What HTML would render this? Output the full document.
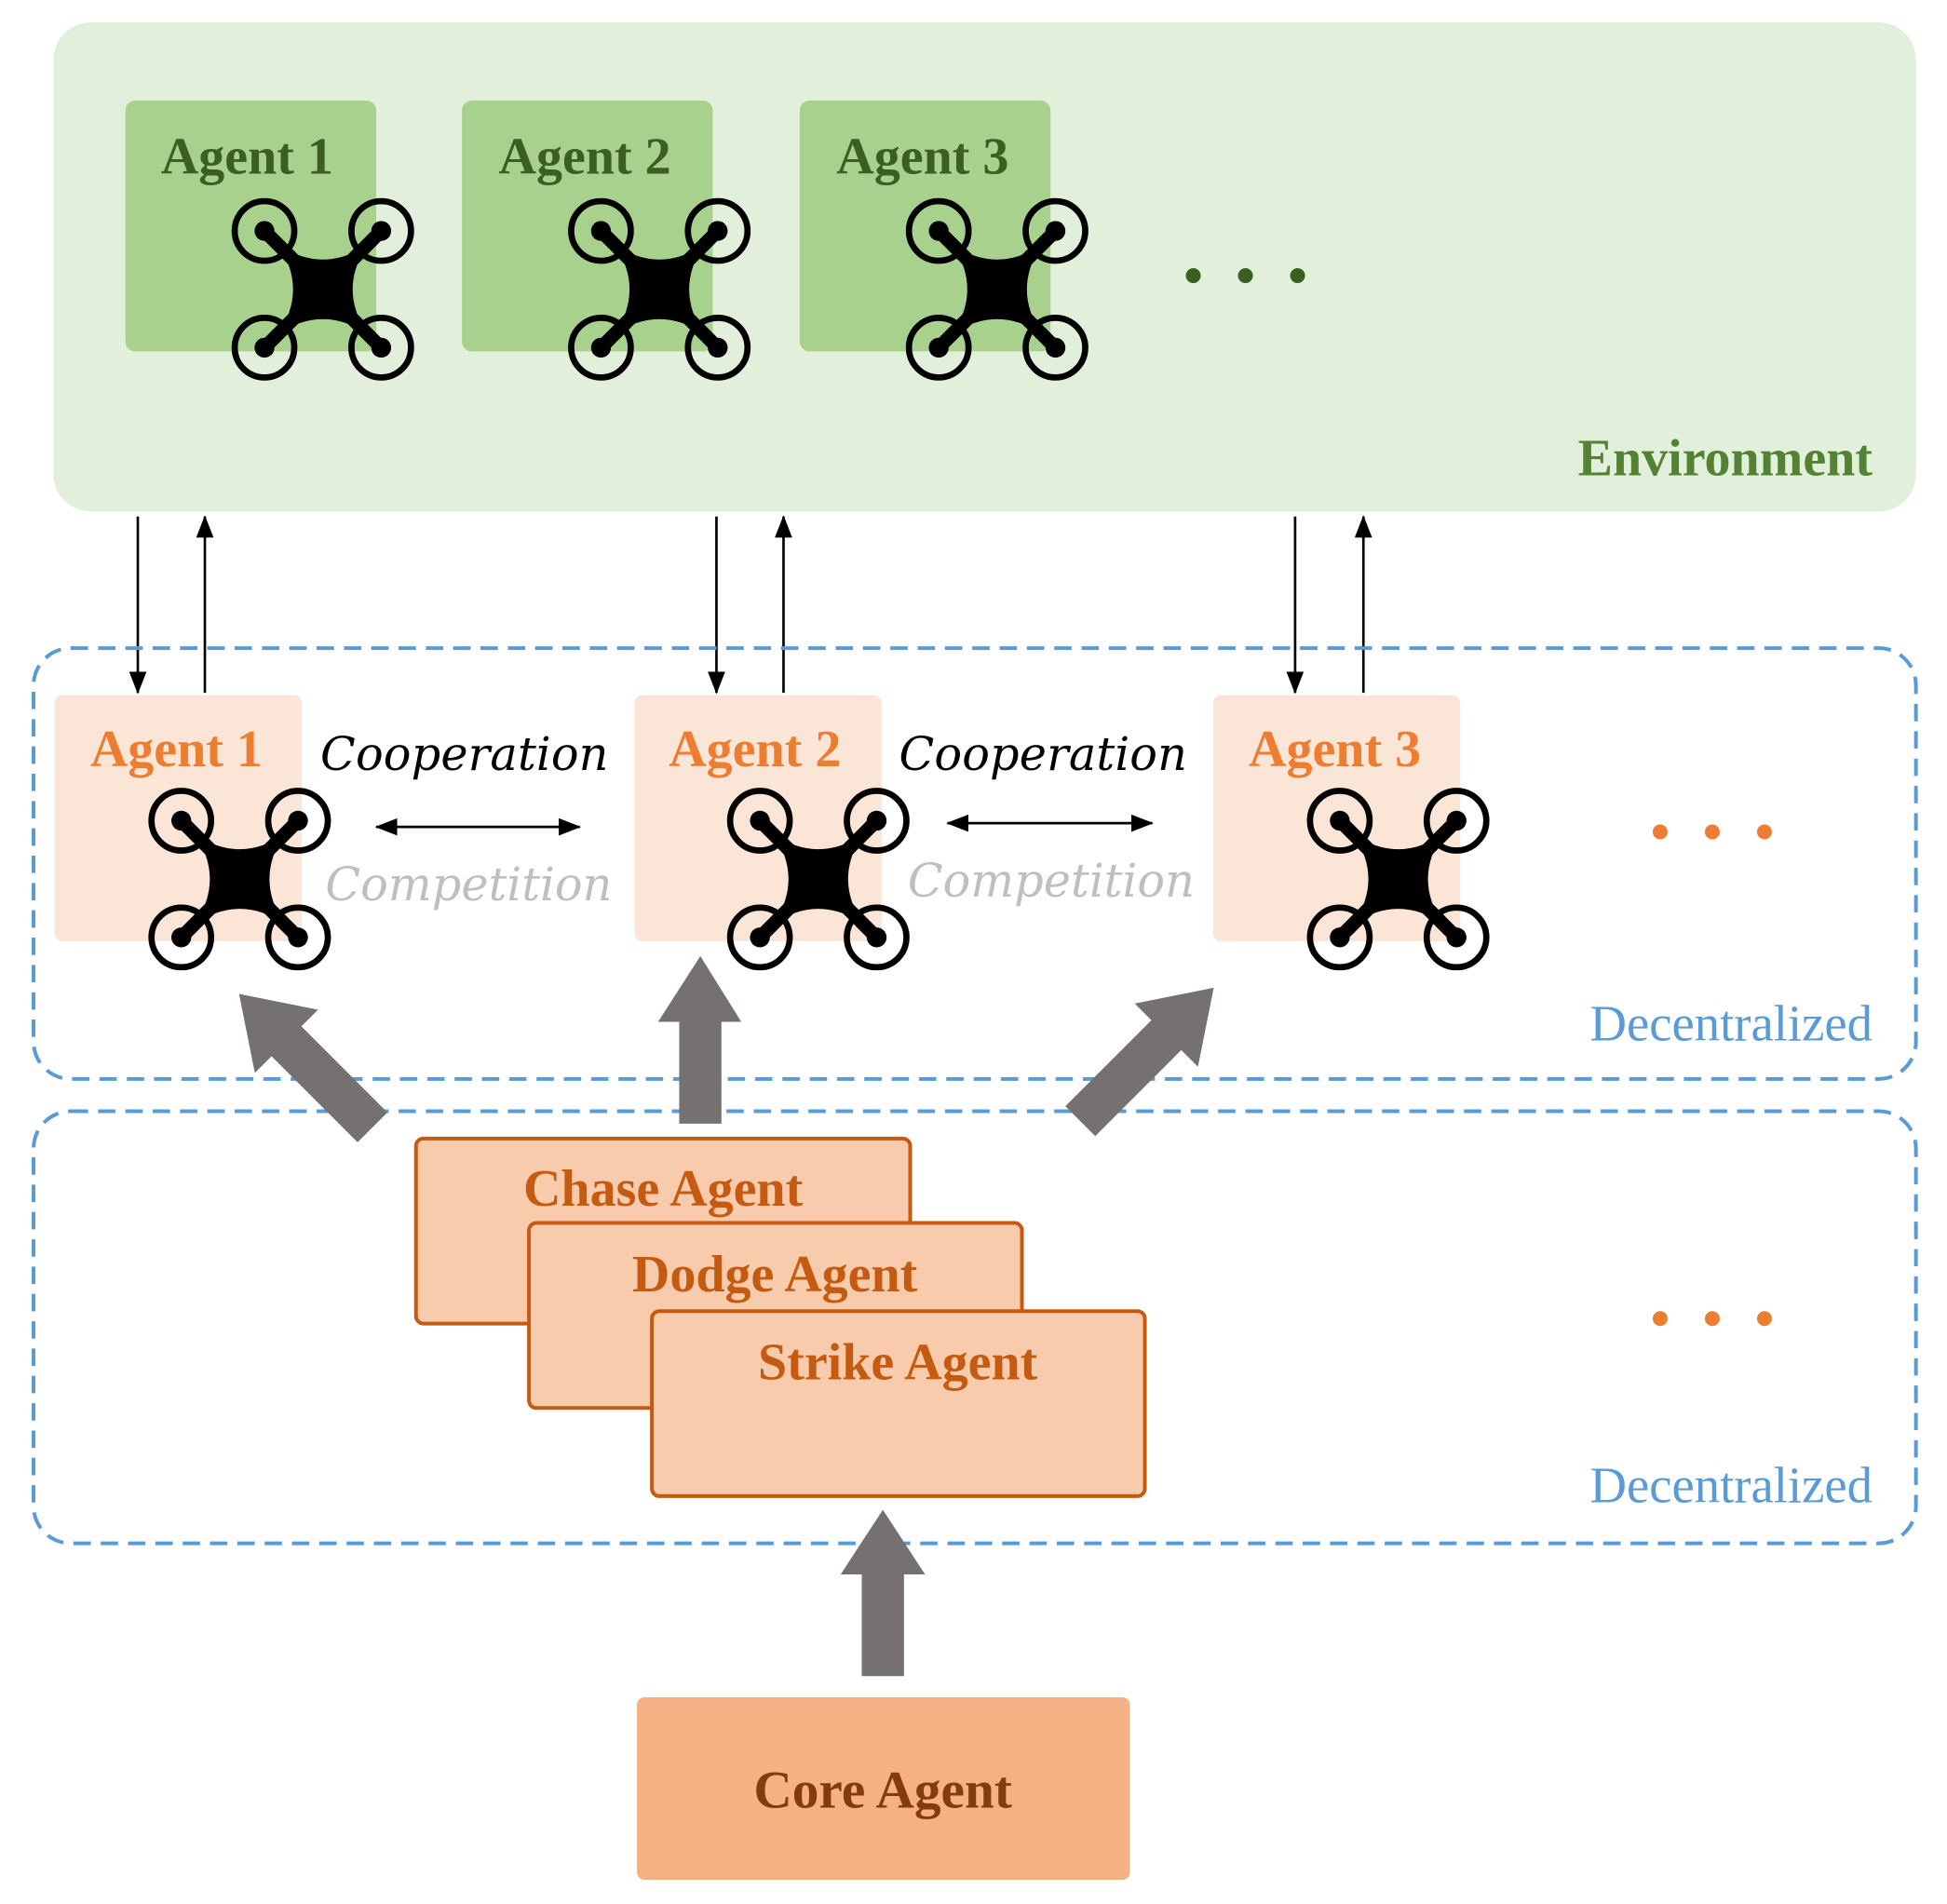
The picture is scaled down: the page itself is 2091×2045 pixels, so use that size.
<!DOCTYPE html>
<html><head><meta charset="utf-8"><style>html,body{margin:0;padding:0;background:#fff}svg{display:block}</style></head>
<body>
<svg width="2091" height="2045" viewBox="0 0 1568 1533.5" xmlns="http://www.w3.org/2000/svg">
<defs>
<g id="drone">
 <path d="M-36,-36 Q0,-12 36,-36 Q12,0 36,36 Q0,12 -36,36 Q-12,0 -36,-36Z" fill="#000"/>
 <line x1="-47" y1="-47" x2="47" y2="47" stroke="#000" stroke-width="11"/>
 <line x1="47" y1="-47" x2="-47" y2="47" stroke="#000" stroke-width="11"/>
 <g fill="none" stroke="#000" stroke-width="5">
  <circle cx="-47" cy="-47" r="24"/><circle cx="47" cy="-47" r="24"/>
  <circle cx="-47" cy="47" r="24"/><circle cx="47" cy="47" r="24"/>
 </g>
 <g fill="#000"><circle cx="-47" cy="-47" r="8"/><circle cx="47" cy="-47" r="8"/><circle cx="-47" cy="47" r="8"/><circle cx="47" cy="47" r="8"/></g>
</g>
<marker id="ah2" markerWidth="18" markerHeight="14" refX="17" refY="7" orient="auto-start-reverse" markerUnits="userSpaceOnUse"><path d="M0,0 L18,7 L0,14Z" fill="#000"/></marker>
</defs>

<rect x="43" y="18" width="1500" height="394" rx="30" fill="#e2efda"/>
<g fill="#a9d18e"><rect x="101" y="81" width="202" height="202" rx="8"/><rect x="372" y="81" width="202" height="202" rx="8"/><rect x="644" y="81" width="202" height="202" rx="8"/></g>
<g font-family="Liberation Serif, serif" font-weight="bold" font-size="42" fill="#3b5e22" text-anchor="middle">
 <text x="199" y="140">Agent 1</text><text x="471" y="140">Agent 2</text><text x="743" y="140">Agent 3</text>
</g>
<use href="#drone" x="260" y="233"/><use href="#drone" x="531" y="233"/><use href="#drone" x="803" y="233"/>
<g fill="#3b5e22"><circle cx="961" cy="222" r="6"/><circle cx="1003" cy="222" r="6"/><circle cx="1045" cy="222" r="6"/></g>
<text x="1508" y="383" text-anchor="end" font-family="Liberation Serif, serif" font-weight="bold" font-size="42" fill="#548235">Environment</text>

<g stroke="#000" stroke-width="2" marker-end="url(#ah2)">
 <line x1="111" y1="416" x2="111" y2="558"/><line x1="165" y1="558" x2="165" y2="416"/>
 <line x1="577" y1="416" x2="577" y2="558"/><line x1="631" y1="558" x2="631" y2="416"/>
 <line x1="1043" y1="416" x2="1043" y2="558"/><line x1="1098" y1="558" x2="1098" y2="416"/>
</g>

<rect x="27" y="522" width="1516" height="347" rx="30" fill="none" stroke="#5b9bd5" stroke-width="3" stroke-dasharray="14 8"/>
<rect x="27" y="895" width="1516" height="348" rx="30" fill="none" stroke="#5b9bd5" stroke-width="3" stroke-dasharray="14 8"/>

<g fill="#fbe5d6"><rect x="44" y="560" width="199" height="198" rx="6"/><rect x="511" y="560" width="199" height="198" rx="6"/><rect x="977" y="560" width="199" height="198" rx="6"/></g>
<g font-family="Liberation Serif, serif" font-weight="bold" font-size="42" fill="#ed7d31" text-anchor="middle">
 <text x="142" y="617">Agent 1</text><text x="608" y="617">Agent 2</text><text x="1075" y="617">Agent 3</text>
</g>
<use href="#drone" x="193" y="708"/><use href="#drone" x="659" y="708"/><use href="#drone" x="1126" y="708"/>

<g font-family="DejaVu Serif, serif" font-style="italic" font-size="37">
 <text x="258" y="620" textLength="232" fill="#000">Cooperation</text>
 <text x="724" y="620" textLength="232" fill="#000">Cooperation</text>
 <text x="262" y="725" textLength="231" fill="#bfbfbf">Competition</text>
 <text x="731" y="722" textLength="231" fill="#bfbfbf">Competition</text>
</g>
<g stroke="#000" stroke-width="2">
 <line x1="303" y1="666" x2="467" y2="666" marker-start="url(#ah2)" marker-end="url(#ah2)"/>
 <line x1="763" y1="663" x2="928" y2="663" marker-start="url(#ah2)" marker-end="url(#ah2)"/>
</g>
<g fill="#ed7d31"><circle cx="1337" cy="670" r="6"/><circle cx="1379" cy="670" r="6"/><circle cx="1421" cy="670" r="6"/>
<circle cx="1337" cy="1062" r="6"/><circle cx="1379" cy="1062" r="6"/><circle cx="1421" cy="1062" r="6"/></g>
<g font-family="Liberation Serif, serif" font-size="41" fill="#5b9bd5" text-anchor="end">
 <text x="1508" y="838">Decentralized</text><text x="1508" y="1210">Decentralized</text>
</g>

<g fill="#767171">
 <path d="M547,905 L581,905 L581,823 L597,823 L564,770 L530,823 L547,823Z"/>
 <path d="M694,1350 L728,1350 L728,1268 L745,1268 L711,1216 L677,1268 L694,1268Z"/>
 <path d="M0,-17 L-98,-17 L-98,-36 L-152,0 L-98,36 L-98,17 L0,17Z" transform="translate(300,908) rotate(45)"/>
 <path d="M0,-17 L-98,-17 L-98,-36 L-152,0 L-98,36 L-98,17 L0,17Z" transform="translate(870,903) rotate(135)"/>
</g>

<g stroke="#c55a11" stroke-width="3" fill="#f8cbad">
 <rect x="335" y="917" width="398" height="149" rx="6"/>
 <rect x="426" y="985" width="397" height="149" rx="6"/>
 <rect x="525" y="1056" width="397" height="149" rx="6"/>
</g>
<g font-family="Liberation Serif, serif" font-weight="bold" font-size="42" fill="#c55a11" text-anchor="middle">
 <text x="534" y="971">Chase Agent</text><text x="624" y="1040">Dodge Agent</text><text x="723" y="1111">Strike Agent</text>
</g>
<rect x="513" y="1367" width="397" height="147" rx="6" fill="#f4b183"/>
<text x="711" y="1456" text-anchor="middle" font-family="Liberation Serif, serif" font-weight="bold" font-size="43" fill="#843c0c">Core Agent</text>
</svg>
</body></html>
